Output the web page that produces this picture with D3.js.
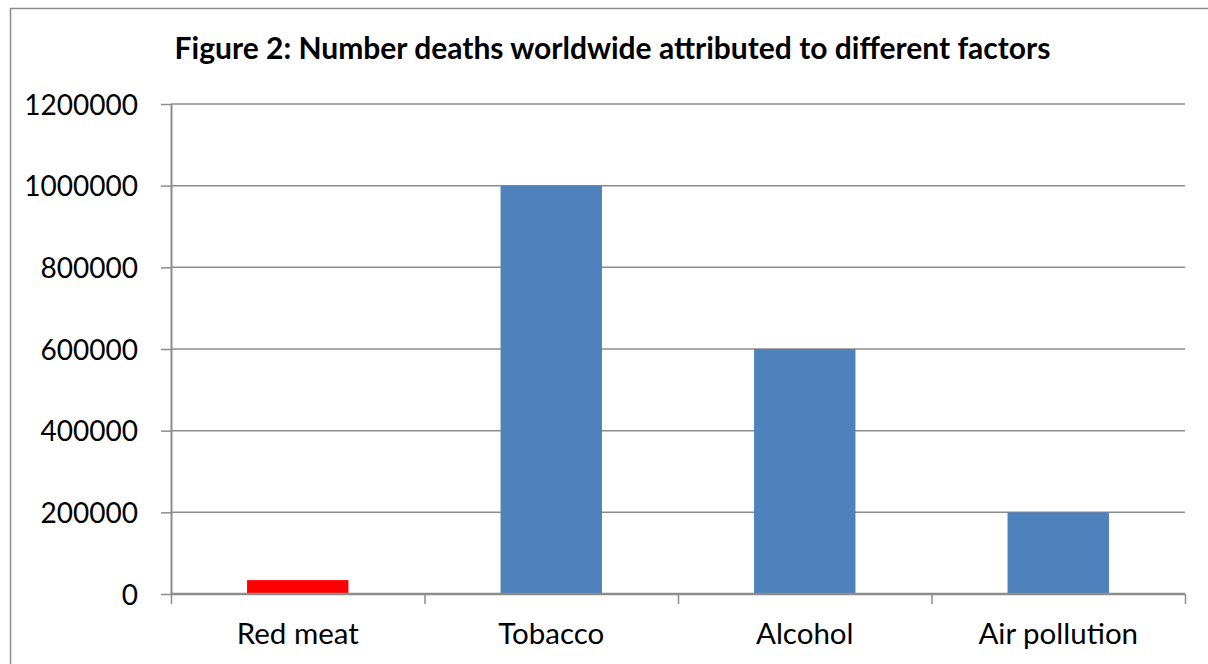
<!DOCTYPE html>
<html>
<head>
<meta charset="utf-8">
<script src="https://cdn.jsdelivr.net/npm/d3@7"></script>
<style>
html,body{margin:0;padding:0;background:#fff;}
svg{display:block;}
</style>
</head>
<body>
<svg id="chart" width="1208" height="664"></svg>
<script>
const title = "Figure 2: Number deaths worldwide attributed to different factors";
const categories = ["Red meat", "Tobacco", "Alcohol", "Air pollution"];
const values = [34000, 1000000, 600000, 200000];
const barColors = ["#FF0000", "#4F81BD", "#4F81BD", "#4F81BD"];
const yTicks = [0, 200000, 400000, 600000, 800000, 1000000, 1200000];

(function () {
const svg = d3.select("#chart");
const FONT = "Lato, 'Open Sans', sans-serif";

svg.append("rect")
  .attr("x", 10.5).attr("y", 8.5)
  .attr("width", 1230).attr("height", 700)
  .attr("fill", "#fff").attr("stroke", "#8c8c8c").attr("stroke-width", 1.5);

const pLeft = 171, pRight = 1185, pTop = 104, pBottom = 594;

const x = d3.scaleBand().domain(categories).range([pLeft, pRight]).padding(0);
const y = d3.scaleLinear().domain([0, 1200000]).range([pBottom, pTop]);

svg.append("g").selectAll("line").data(yTicks.filter(d => d > 0)).join("line")
  .attr("x1", pLeft).attr("x2", pRight)
  .attr("y1", d => y(d)).attr("y2", d => y(d))
  .attr("stroke", "#8c8c8c").attr("stroke-width", 1.5);

const barW = x.bandwidth() * 0.4;
svg.append("g").selectAll("rect").data(categories).join("rect")
  .attr("x", d => x(d) + (x.bandwidth() - barW) / 2)
  .attr("width", barW)
  .attr("y", (d, i) => y(values[i]))
  .attr("height", (d, i) => y(0) - y(values[i]))
  .attr("fill", (d, i) => barColors[i]);

const yAxis = svg.append("g").attr("transform", `translate(${pLeft},0)`)
  .call(d3.axisLeft(y).tickValues(yTicks).tickFormat(d3.format("d")).tickSize(10).tickPadding(23));
yAxis.select(".domain").attr("stroke", "#8c8c8c").attr("stroke-width", 2).attr("d", `M0.5,${pTop}V${pBottom}`);
yAxis.selectAll(".tick line").attr("stroke", "#8c8c8c").attr("stroke-width", 1.5);
yAxis.selectAll(".tick text").attr("font-family", FONT).attr("font-size", 28).attr("fill", "#000").attr("dy", "0.36em");

const xAxis = svg.append("g").attr("transform", `translate(0,${pBottom})`)
  .call(d3.axisBottom(x).tickSize(0).tickPadding(29));
xAxis.select(".domain").attr("stroke", "#8c8c8c").attr("stroke-width", 2.5).attr("d", `M${pLeft},0H${pRight}`);
xAxis.selectAll(".tick text").attr("font-family", FONT).attr("font-size", 29.5).attr("fill", "#000");

const bounds = categories.map(c => x(c)).concat([pRight]);
svg.append("g").selectAll("line").data(bounds).join("line")
  .attr("x1", d => d + 0.5).attr("x2", d => d + 0.5)
  .attr("y1", pBottom).attr("y2", pBottom + 10)
  .attr("stroke", "#8c8c8c").attr("stroke-width", 1.5);

svg.append("text")
  .attr("x", (175 + 1050) / 2).attr("y", 59)
  .attr("text-anchor", "middle")
  .attr("font-family", FONT).attr("font-weight", "bold").attr("font-size", 30)
  .attr("fill", "#000")
  .text(title);
})();
</script>
</body>
</html>
